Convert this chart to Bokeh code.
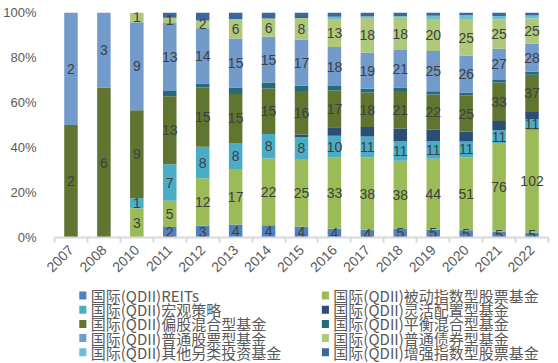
import math
from bokeh.plotting import figure
from bokeh.layouts import column
from bokeh.models import (ColumnDataSource, Range1d, FixedTicker,
                          NumeralTickFormatter)
from bokeh.core.properties import value
from bokeh.embed import file_html
from bokeh.resources import INLINE

# ---------------- data ----------------
years = ["2007", "2008", "2010", "2011", "2012", "2013", "2014", "2015",
         "2016", "2017", "2018", "2019", "2020", "2021", "2022"]

names = [
    "国际(QDII)REITs",
    "国际(QDII)被动指数型股票基金",
    "国际(QDII)宏观策略",
    "国际(QDII)灵活配置型基金",
    "国际(QDII)偏股混合型基金",
    "国际(QDII)平衡混合型基金",
    "国际(QDII)普通股票型基金",
    "国际(QDII)普通债券型基金",
    "国际(QDII)其他另类投资基金",
    "国际(QDII)增强指数型股票基金",
]

reits      = [0, 0, 0, 2, 3, 4, 4, 4, 4, 4, 5, 5, 5, 5, 5]
passive    = [0, 0, 3, 5, 12, 17, 22, 25, 33, 38, 38, 44, 51, 76, 102]
macro      = [0, 0, 1, 7, 8, 8, 8, 8, 10, 11, 11, 11, 11, 11, 11]
flexible   = [0, 0, 0, 0, 0, 0, 0, 1, 4, 5, 7, 7, 7, 8, 7]
equity_mix = [2, 6, 9, 13, 15, 15, 15, 16, 17, 18, 21, 22, 25, 33, 37]
balanced   = [0, 0, 0, 1, 1, 2, 2, 2, 2, 2, 2, 2, 2, 2, 3]
stock      = [2, 3, 9, 13, 14, 15, 15, 17, 18, 19, 21, 25, 26, 27, 28]
bond       = [0, 0, 1, 1, 2, 6, 6, 8, 13, 18, 18, 20, 25, 25, 25]
other      = [0, 0, 0, 0, 0, 0, 0, 0, 1, 1, 1, 2, 3, 3, 3]
enhanced   = [0, 0, 0, 1, 2, 2, 2, 2, 2, 2, 2, 2, 2, 3, 3]

colors = ["#4F81BD", "#9BBB59", "#4BACC6", "#2C4D75", "#5F7530",
          "#276A7C", "#729ACA", "#AFC97A", "#6FBDD1", "#3A689C"]

labeled = [0, 1, 2, 4, 6, 7]   # series that carry data labels

# ---------------- main chart ----------------
values = [reits, passive, macro, flexible, equity_mix, balanced,
          stock, bond, other, enhanced]
n = len(years)
totals = [sum(col) for col in zip(*values)]
keys = [f"s{i}" for i in range(len(values))]
data = {"x": list(range(n))}
for k, v in zip(keys, values):
    data[k] = [a / t for a, t in zip(v, totals)]
src = ColumnDataSource(data)

W = 558
H1 = 283
p = figure(width=W, height=H1, output_backend="svg", toolbar_location=None,
           x_range=Range1d(-0.5, n - 0.5), y_range=Range1d(0, 1),
           min_border_left=54, min_border_right=10, min_border_top=12,
           min_border_bottom=46, background_fill_color="white",
           border_fill_color="white", outline_line_color=None)

rends = p.vbar_stack(keys, x="x", width=0.41, fill_color=colors,
                     line_color=None, source=src)

# data labels
lx, ly, lt = [], [], []
for si in labeled:
    for j in range(n):
        v = values[si][j]
        if v > 0:
            below = sum(values[k][j] for k in range(si))
            lx.append(j)
            ly.append((below + v / 2) / totals[j])
            lt.append(str(v))
p.text(x=lx, y=ly, text=lt, text_align="center", text_baseline="middle",
       text_font=value("Liberation Sans"), text_font_size="14px",
       text_color="#404040")

p.xgrid.visible = False
p.ygrid.visible = False

p.yaxis.ticker = FixedTicker(ticks=[0, 0.2, 0.4, 0.6, 0.8, 1.0])
p.yaxis.formatter = NumeralTickFormatter(format="0%")
p.yaxis.axis_line_color = None
p.yaxis.major_tick_line_color = None
p.yaxis.minor_tick_line_color = None
p.yaxis.major_label_text_font = "Liberation Sans"
p.yaxis.major_label_text_font_size = "13px"
p.yaxis.major_label_text_color = "#595959"
p.yaxis.major_label_standoff = 12

p.xaxis.ticker = FixedTicker(ticks=list(range(n)),
                             minor_ticks=[i - 0.5 for i in range(n + 1)])
p.xaxis.major_label_overrides = {i: y for i, y in enumerate(years)}
p.xaxis.axis_line_color = "#D9D9D9"
p.xaxis.axis_line_width = 2
p.xaxis.major_tick_line_color = None
p.xaxis.major_tick_out = 0
p.xaxis.minor_tick_line_color = "#D9D9D9"
p.xaxis.minor_tick_line_width = 2
p.xaxis.minor_tick_out = 5
p.xaxis.minor_tick_in = 0
p.xaxis.major_label_orientation = math.pi / 4
p.xaxis.major_label_text_font = "Liberation Sans"
p.xaxis.major_label_text_font_size = "14px"
p.xaxis.major_label_text_color = "#595959"
p.xaxis.major_label_standoff = 5

# ---------------- legend (two columns, five rows) ----------------
H2 = 80
lg = figure(width=W, height=H2, output_backend="svg", toolbar_location=None,
            x_range=Range1d(0, W), y_range=Range1d(H2, 0),
            min_border=0, background_fill_color="white",
            border_fill_color="white", outline_line_color=None)
lg.axis.visible = False
lg.grid.visible = False

col_x = [28, 302]      # left edge of legend swatch per column
row_y0, row_dy = 12, 14.2
sx, sy, tx = [], [], []
for i in range(len(names)):
    c, r = i % 2, i // 2
    sx.append(col_x[c] + 4)
    sy.append(row_y0 + r * row_dy)
    tx.append(col_x[c] + 13)
lg.rect(x=sx, y=sy, width=8, height=8, fill_color=colors, line_color=None)
lg.text(x=tx, y=sy, text=names, text_align="left", text_baseline="middle",
        text_font=value("Noto Sans CJK SC"), text_font_size="15px",
        text_color="#595959")

layout = column(p, lg, spacing=0)
open("out.html", "w").write(file_html(layout, INLINE))
